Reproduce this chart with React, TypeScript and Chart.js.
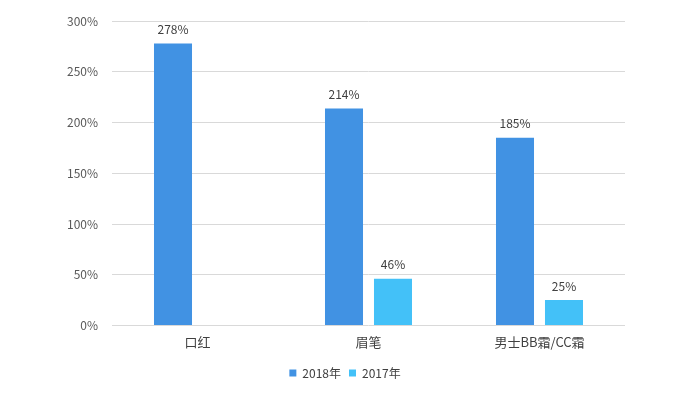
import React, { useEffect, useRef } from "react";
import { Chart, registerables } from "chart.js";

Chart.register(...registerables);

const categories = ["口红", "眉笔", "男士BB霜/CC霜"];
const series2018 = [278, 214, 185];
const series2017: (number | null)[] = [null, 46, 25];
const seriesNames = ["2018年", "2017年"];
const yTicks = [0, 50, 100, 150, 200, 250, 300];

const FONT = '"Noto Sans CJK SC", "Noto Sans", sans-serif';

const valueLabels = {
  id: "valueLabels",
  afterDatasetsDraw(chart: any) {
    const ctx = chart.ctx;
    ctx.save();
    ctx.font = `12px ${FONT}`;
    ctx.fillStyle = "#404040";
    ctx.textAlign = "center";
    ctx.textBaseline = "middle";
    chart.data.datasets.forEach((ds: any, di: number) => {
      const meta = chart.getDatasetMeta(di);
      meta.data.forEach((bar: any, i: number) => {
        const v = ds.data[i];
        if (v === null || v === undefined) return;
        ctx.fillText(`${v}%`, bar.x, bar.y - 14);
      });
    });
    ctx.restore();
  },
};

export default function App() {
  const ref = useRef<HTMLCanvasElement>(null);
  useEffect(() => {
    const chart = new Chart(ref.current!, {
      type: "bar",
      data: {
        labels: categories,
        datasets: [
          {
            label: seriesNames[0],
            data: series2018,
            backgroundColor: "#4192E3",
            barPercentage: 0.776,
            categoryPercentage: 0.573,
          },
          {
            label: seriesNames[1],
            data: series2017,
            backgroundColor: "#43C1F8",
            barPercentage: 0.776,
            categoryPercentage: 0.573,
          },
        ],
      },
      options: {
        animation: false,
        responsive: false,
        layout: { padding: { left: 65, right: 75, top: 16, bottom: 12 } },
        plugins: {
          legend: {
            position: "bottom",
            labels: {
              boxWidth: 7,
              boxHeight: 7,
              padding: 8,
              color: "#404040",
              font: { family: FONT, size: 12 },
            },
          },
          tooltip: { enabled: false },
        },
        scales: {
          x: {
            grid: { display: false },
            border: { display: false },
            afterFit: (s: any) => {
              s.height = s.height + 8;
            },
            ticks: { color: "#404040", font: { family: FONT, size: 13 }, padding: 1 },
          },
          y: {
            min: 0,
            max: 300,
            afterFit: (s: any) => {
              s.width = 47;
            },
            afterBuildTicks: (s: any) => {
              s.ticks = yTicks.map((v) => ({ value: v }));
            },
            grid: { color: "#d9d9d9", drawTicks: false },
            border: { display: false },
            ticks: {
              color: "#595959",
              font: { family: FONT, size: 12 },
              padding: 14,
              callback: (v: any) => `${v}%`,
            },
          },
        },
      },
      plugins: [valueLabels],
    });
    return () => chart.destroy();
  }, []);
  return (
    <div style={{ position: "fixed", left: 0, top: 0, width: 700, height: 401, background: "#fff" }}>
      <canvas ref={ref} width={700} height={401} style={{ width: 700, height: 401 }} />
    </div>
  );
}
